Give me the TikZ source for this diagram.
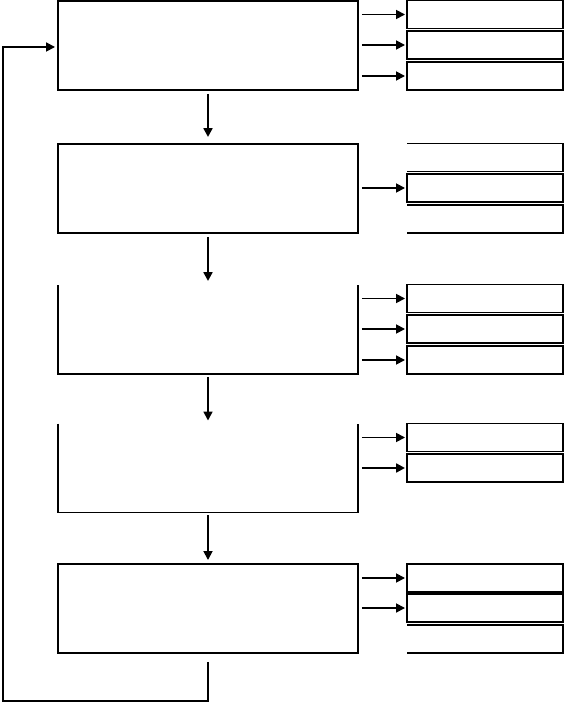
\documentclass[tikz,border=0pt]{standalone}
\usepackage{tikz}
\usetikzlibrary{arrows.meta, positioning, calc}

\begin{document}
\begin{tikzpicture}[
    x=0.02cm, y=-0.02cm,
    stagebox/.style={draw, line width=1pt, minimum width=6cm, minimum height=1.78cm, inner sep=0pt, outer sep=0pt},
    outbox/.style={draw, line width=1pt, minimum width=3.12cm, minimum height=0.56cm, inner sep=0pt, outer sep=0pt},
    openbox/.style={draw=none},
    edge/.style={line width=1pt},
    flow/.style={-{Triangle[length=5pt, width=5pt]}, line width=1pt},
    bigflow/.style={-{Triangle[length=5pt, width=5pt]}, line width=1.7pt},
]
    \useasboundingbox (0,0) rectangle (564,702);

    % Stages
    \node[stagebox] (stage1) at (208, 45.5) {};
    \node[stagebox] (stage2) at (208, 188.5) {};
    \node[stagebox, openbox] (stage3) at (208, 329.5) {};
    \node[stagebox, openbox] (stage4) at (208, 468) {};
    \node[stagebox] (stage5) at (208, 608.5) {};
    \foreach \s in {stage3, stage4} {
        \draw[edge] (\s.north west) -- (\s.south west) -- (\s.south east) -- (\s.north east);
    }

    % Outputs
    \node[outbox] (out11) at (485, 14.5) {};
    \node[outbox] (out12) at (485, 45) {};
    \node[outbox] (out13) at (485, 76) {};
    \node[outbox, openbox] (out21) at (485, 157.5) {};
    \node[outbox] (out22) at (485, 188) {};
    \node[outbox, openbox] (out23) at (485, 219) {};
    \node[outbox] (out31) at (485, 298.5) {};
    \node[outbox] (out32) at (485, 329) {};
    \node[outbox] (out33) at (485, 360) {};
    \node[outbox] (out41) at (485, 437.5) {};
    \node[outbox] (out42) at (485, 468) {};
    \node[outbox] (out51) at (485, 578) {};
    \node[outbox] (out52) at (485, 608) {};
    \node[outbox, openbox] (out53) at (485, 639) {};
    \foreach \o in {out21, out23, out53} {
        \draw[edge] (\o.north west) -- (\o.north east) -- (\o.south east) -- (\o.south west);
    }

    % Stage to stage
    \draw[bigflow] ($(stage1.south)+(0,4)$) -- ($(stage2.north)+(0,-7)$);
    \draw[bigflow] ($(stage2.south)+(0,4)$) -- ($(stage3.north)+(0,-4)$);
    \draw[flow] ($(stage3.south)+(0,3)$) -- ($(stage4.north)+(0,-3)$);
    \draw[flow] ($(stage4.south)+(0,3)$) -- ($(stage5.north)+(0,-4)$);

    % Stage to outputs
    \foreach \s/\o in {stage1/out11, stage1/out12, stage1/out13, stage2/out22,
                       stage3/out31, stage3/out32, stage3/out33, stage4/out41,
                       stage5/out51, stage5/out52} {
        \draw[flow] ($(\s.east |- \o.west)+(4,0)$) -- ($(\o.west)+(-2,0)$);
    }
    \draw[bigflow] ($(stage4.east |- out42.west)+(4,0)$) -- ($(out42.west)+(-2,0)$);

    % Feedback loop
    \coordinate (loop) at (3, 701);
    \draw[flow] ($(stage5.south)+(0,9)$) |- (loop) |- ($(stage1.west)+(-3,1.5)$);
\end{tikzpicture}
\end{document}
